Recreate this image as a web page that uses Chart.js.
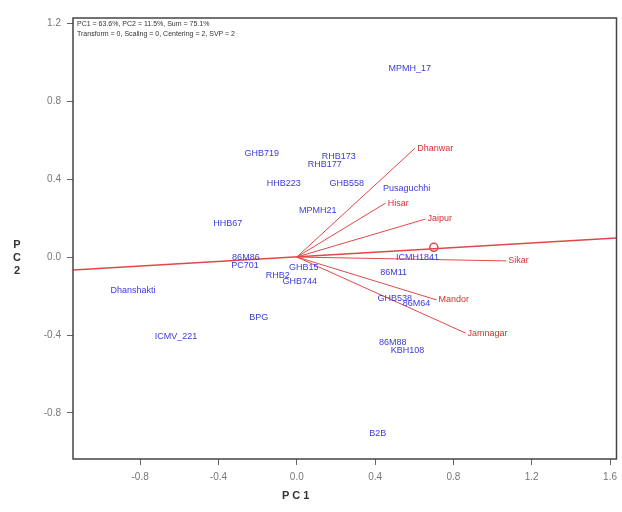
<!DOCTYPE html>
<html>
<head>
<meta charset="utf-8">
<script src="https://cdn.jsdelivr.net/npm/chart.js@4.4.0/dist/chart.umd.min.js"></script>
<style>
  body { margin: 0; background: #fff; }
  #wrap { position: relative; width: 622px; height: 512px; }
  .ttl { position: absolute; font-family: 'Liberation Sans', Arial, sans-serif; font-weight: bold; color: #333; }
  #pc2 { left: 11px; top: 238px; font-size: 11px; line-height: 13px; text-align: center; width: 12px; }
  #pc1 { left: 282px; top: 489px; font-size: 11px; letter-spacing: 3px; }
  #note { position: absolute; left: 77px; top: 19px; font-family: 'Liberation Sans', Arial, sans-serif; font-size: 7px; line-height: 10px; color: #333; }
</style>
</head>
<body>
<div id="wrap">
  <canvas id="biplot" width="622" height="512"></canvas>
  <div class="ttl" id="pc2">P<br>C<br>2</div>
  <div class="ttl" id="pc1">PC1</div>
  <div id="note">PC1 = 63.6%, PC2 = 11.5%, Sum = 75.1%<br>Transform = 0, Scaling = 0, Centering = 2, SVP = 2</div>
</div>
<script>
// genotypes (blue)
var genoNames = ['MPMH_17','GHB719','RHB173','RHB177','HHB223','GHB558','MPMH21','Pusaguchhi','HHB67',
  '86M86','PC701','GHB15','RHB2','GHB744','Dhanshakti','BPG','ICMV_221','ICMH1841','86M11','GHB538',
  '86M64','86M88','KBH108','B2B'];
var genoX = [0.577,-0.179,0.214,0.143,-0.066,0.255,0.107,0.561,-0.352,
  -0.260,-0.265,0.036,-0.097,0.015,-0.837,-0.194,-0.617,0.617,0.495,0.500,
  0.612,0.490,0.566,0.413];
var genoY = [0.969,0.533,0.513,0.472,0.379,0.379,0.241,0.349,0.174,
  0.0,-0.046,-0.056,-0.097,-0.128,-0.174,-0.308,-0.410,0.0,-0.082,-0.215,
  -0.241,-0.436,-0.477,-0.903];

// environments (red vectors)
var envNames = ['Dhanwar','Hisar','Jaipur','Sikar','Mandor','Jamnagar'];
var envX = [0.605,0.454,0.658,1.07,0.714,0.862];
var envY = [0.559,0.277,0.195,-0.02,-0.220,-0.390];

// average environment axis + its marker
var aeaX = [-1.143, 1.633];
var aeaY = [-0.066, 0.097];
var aeaMark = {x: 0.70, y: 0.05};

var xTicks = [-0.8,-0.4,0.0,0.4,0.8,1.2,1.6];
var yTicks = [-0.8,-0.4,0.0,0.4,0.8,1.2];

var RED = '#e04848';
var BLUE = '#3b3bd8';

var datasets = [];
datasets.push({
  label: 'AEA',
  data: [{x: aeaX[0], y: aeaY[0]}, {x: aeaX[1], y: aeaY[1]}],
  showLine: true, borderColor: RED, borderWidth: 1.5, pointRadius: 0
});
for (let i = 0; i < envNames.length; i++) {
  datasets.push({
    label: envNames[i],
    data: [{x: 0, y: 0}, {x: envX[i], y: envY[i]}],
    showLine: true, borderColor: RED, borderWidth: 1, pointRadius: 0
  });
}
datasets.push({
  label: 'AEA marker',
  data: [aeaMark],
  pointRadius: 4, pointBorderColor: RED, pointBackgroundColor: 'rgba(0,0,0,0)', pointBorderWidth: 1.5
});
datasets.push({
  label: 'Genotypes',
  data: genoNames.map(function(n, i) { return {x: genoX[i], y: genoY[i]}; }),
  pointRadius: 0
});

const labelPlugin = {
  id: 'labels',
  afterDatasetsDraw(chart) {
    const ctx = chart.ctx, xs = chart.scales.x, ys = chart.scales.y;
    ctx.save();
    ctx.font = '9px "Liberation Sans", Arial, sans-serif';
    ctx.textBaseline = 'middle';
    ctx.fillStyle = BLUE;
    ctx.textAlign = 'center';
    for (let i = 0; i < genoNames.length; i++) {
      ctx.fillText(genoNames[i], xs.getPixelForValue(genoX[i]), ys.getPixelForValue(genoY[i]));
    }
    ctx.fillStyle = '#d03030';
    ctx.textAlign = 'left';
    for (let i = 0; i < envNames.length; i++) {
      ctx.fillText(envNames[i], xs.getPixelForValue(envX[i]) + 2, ys.getPixelForValue(envY[i]));
    }
    // plot frame
    const a = chart.chartArea;
    ctx.strokeStyle = '#444';
    ctx.lineWidth = 1.5;
    ctx.strokeRect(a.left, a.top, a.right - a.left, a.bottom - a.top);
    ctx.restore();
  }
};

const tickFont = {family: "'Liberation Sans', Arial, sans-serif", size: 10};

const config_biplot = {
  type: 'scatter',
  data: { datasets: datasets },
  options: {
    responsive: false,
    animation: false,
    layout: { padding: {top: 18, right: 5, left: 0, bottom: 0} },
    plugins: { legend: {display: false}, tooltip: {enabled: false} },
    scales: {
      x: {
        type: 'linear', min: -1.143, max: 1.633,
        afterBuildTicks: function(s) { s.ticks = xTicks.map(function(v) { return {value: v}; }); },
        afterFit: function(s) { s.height = 53; s.paddingLeft = 0; s.paddingRight = 0; },
        grid: { drawOnChartArea: false, drawTicks: true, tickLength: 6, color: '#666' },
        border: { display: false },
        ticks: { color: '#777', font: tickFont, padding: 6, maxRotation: 0,
          callback: function(v) { return v.toFixed(1); } }
      },
      y: {
        type: 'linear', min: -1.036, max: 1.226,
        afterBuildTicks: function(s) { s.ticks = yTicks.map(function(v) { return {value: v}; }); },
        afterFit: function(s) { s.width = 73; s.paddingTop = 0; s.paddingBottom = 0; },
        grid: { drawOnChartArea: false, drawTicks: true, tickLength: 6, color: '#666' },
        border: { display: false },
        ticks: { color: '#777', font: tickFont, padding: 6,
          callback: function(v) { return v.toFixed(1); } }
      }
    }
  },
  plugins: [labelPlugin]
};

const Biplot = new Chart(document.getElementById('biplot'), config_biplot);
</script>
</body>
</html>
